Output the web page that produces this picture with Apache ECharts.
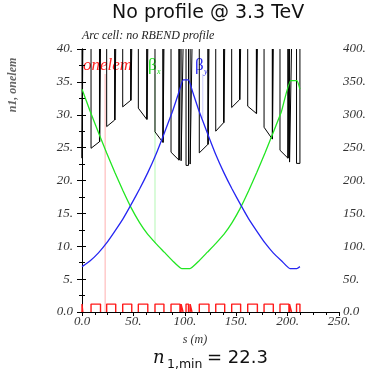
<!DOCTYPE html>
<html>
<head>
<meta charset="utf-8">
<script src="https://cdn.jsdelivr.net/npm/echarts@6/dist/echarts.min.js"></script>
<style>
html,body{margin:0;padding:0;background:#fff;}
#chart{width:373px;height:375px;}
</style>
</head>
<body>
<div id="chart"></div>
<script>
// beta functions (m), right axis
var betxS = [0, 8, 16, 24, 32, 40, 48, 56, 64, 72, 80, 88, 97, 105, 114, 122, 130, 138, 146, 154, 162, 170, 178, 186, 194, 203, 209, 212];
var betxV = [339, 305, 273, 242, 212, 184, 158, 136, 118, 104, 91, 78, 66, 66, 78, 91, 104, 118, 136, 158, 184, 212, 242, 273, 305, 352, 352, 339];
var betyS = [0, 8, 16, 24, 32, 40, 48, 56, 64, 72, 80, 88, 94, 98.5, 103.5, 108, 114, 122, 130, 138, 146, 154, 162, 170, 178, 186, 194, 202.4, 208.9, 212];
var betyV = [69, 78, 90, 105, 123, 142, 164, 187, 212, 240, 272, 305, 333, 353, 353, 333, 305, 272, 240, 212, 187, 164, 142, 123, 105, 90, 78, 66, 66, 69];

// elements: start / end s (m), n1 at entry / exit, onelem height, corrector after element (1/0)
var elS1  = [0,   8.8,  24.0, 39.6, 54.8, 71.0, 86.6, 96.4, 101.2, 105.2, 114.1, 130.1, 145.6, 161.2, 177.1, 192.6, 201.9, 208.7];
var elS2  = [0.8, 17.0, 31.8, 47.4, 63.0, 78.7, 94.3, 98.3, 103.6, 107.0, 122.5, 137.8, 153.3, 169.6, 185.1, 200.3, 203.8, 212.0];
var n1In  = [23.4, 24.9, 28.2, 31.2, 31.0, 27.4, 24.3, 23.0, 22.3, 22.5, 24.2, 27.5, 31.1, 31.3, 28.1, 24.6, 22.8, 22.6];
var n1Out = [23.4, 25.9, 29.2, 32.2, 29.3, 25.8, 23.1, 23.0, 22.3, 22.5, 25.5, 28.8, 32.3, 30.2, 26.3, 23.4, 22.8, 22.6];
var onelemV = [1.2, 1.2, 1.2, 1.2, 1.2, 1.2, 1.2, 1.2, 1.2, 1.2, 1.2, 1.2, 1.2, 1.2, 1.2, 1.2, 1.2, 1.2];
var corr    = [0, 1, 1, 1, 1, 1, 1, 0, 0, 0, 1, 1, 1, 1, 1, 1, 0, 0];
var corrLen = 1.0;

// label leader lines
var leadS = [22.5, 71, 117.5];
var leadTop = [36.2, 36.2, 36.2];
var leadBot = [0, 10.5, 29.5];

var n1Top = 40;

var n1Data = [];
var oneData = [];
for (var i = 0; i < elS1.length; i++) {
    n1Data.push([elS1[i], n1Top], [elS1[i], n1In[i]], [elS2[i], n1Out[i]], [elS2[i], n1Top], [elS2[i], '-']);
    var e2 = elS2[i];
    if (corr[i]) {
        e2 = elS2[i] + corrLen;
        n1Data.push([elS2[i] + 0.2, n1Top], [elS2[i] + 0.2, n1Out[i]], [e2, n1Out[i]], [e2, n1Top], [e2, '-']);
    }
    oneData.push([elS1[i], 0], [elS1[i], onelemV[i]], [e2, onelemV[i]], [e2, 0], [e2, '-']);
}
function zip(a, b) {
    var r = [];
    for (var k = 0; k < a.length; k++) r.push([a[k], b[k]]);
    return r;
}

var serif = 'Liberation Serif';
var labFmt = function (v) { return v === 0 ? '0.0' : v + '.'; };
var labStyle = { fontFamily: serif, fontStyle: 'italic', fontSize: 13, color: '#333' };

var leadColors = ['rgba(255,80,80,0.45)', 'rgba(40,230,40,0.35)', 'rgba(60,60,255,0.25)'];
var leadSeries = [];
for (var j = 0; j < leadS.length; j++) {
    leadSeries.push({
        type: 'line', yAxisIndex: 0, symbol: 'none', silent: true,
        lineStyle: { color: leadColors[j], width: 1 },
        data: [[leadS[j], leadTop[j]], [leadS[j], leadBot[j]]]
    });
}

var myChart = echarts.init(document.getElementById('chart'), null, { renderer: 'canvas' });
var option = {
    animation: false,
    backgroundColor: '#fff',
    grid: { left: 82, right: 34, top: 49, bottom: 63 },
    xAxis: [
        {
            type: 'value', min: 0, max: 250, interval: 50, position: 'bottom',
            axisLine: { lineStyle: { color: '#000', width: 1 } },
            axisTick: { inside: false, length: 4, lineStyle: { color: '#000' } },
            minorTick: { show: true, splitNumber: 4, length: 3, lineStyle: { color: '#000' } },
            splitLine: { show: false },
            axisLabel: Object.assign({ formatter: labFmt, margin: 3 }, labStyle)
        },
        {
            type: 'value', min: 0, max: 250, interval: 50, position: 'top',
            axisLine: { lineStyle: { color: '#000', width: 1 } },
            axisTick: { inside: true, length: 4, lineStyle: { color: '#000' } },
            minorTick: { show: true, splitNumber: 4, length: 3, lineStyle: { color: '#000' } },
            splitLine: { show: false },
            axisLabel: { show: false }
        }
    ],
    yAxis: [
        {
            type: 'value', min: 0, max: 40, interval: 5, position: 'left',
            axisLine: { show: true, lineStyle: { color: '#000', width: 1 } },
            axisTick: { show: true, length: 5, lineStyle: { color: '#000' } },
            minorTick: { show: true, splitNumber: 2, length: 3, lineStyle: { color: '#000' } },
            splitLine: { show: false },
            axisLabel: Object.assign({ formatter: labFmt, margin: 9 }, labStyle)
        },
        {
            type: 'value', min: 0, max: 400, interval: 50, position: 'right',
            axisLine: { show: true, lineStyle: { color: '#000', width: 1 } },
            axisTick: { show: true, length: 4, lineStyle: { color: '#000' } },
            minorTick: { show: true, splitNumber: 2, length: 3, lineStyle: { color: '#000' } },
            splitLine: { show: false },
            axisLabel: Object.assign({ formatter: labFmt, margin: 4 }, labStyle)
        }
    ],
    series: leadSeries.concat([
        {
            name: 'n1', type: 'line', yAxisIndex: 0, symbol: 'none', clip: true,
            lineStyle: { color: '#000', width: 1 },
            data: n1Data
        },
        {
            name: 'onelem', type: 'line', yAxisIndex: 0, symbol: 'none',
            lineStyle: { color: '#ff1a1a', width: 1.4 },
            data: oneData
        },
        {
            name: 'betx', type: 'line', yAxisIndex: 1, symbol: 'none', smooth: 0.15,
            lineStyle: { color: '#22e622', width: 1.3 },
            data: zip(betxS, betxV)
        },
        {
            name: 'bety', type: 'line', yAxisIndex: 1, symbol: 'none', smooth: 0.15,
            lineStyle: { color: '#2626f2', width: 1.3 },
            data: zip(betyS, betyV)
        }
    ]),
    graphic: [
        { type: 'text', left: 112, top: 4, style: { text: 'No profile @ 3.3 TeV', font: '19px "DejaVu Sans"', fill: '#111' } },
        { type: 'text', x: 82, y: 36, style: { text: 'Arc cell: no RBEND profile', font: 'italic 12px "Liberation Serif"', fill: '#222', verticalAlign: 'middle' } },
        { type: 'text', x: 13, y: 85, rotation: Math.PI / 2, style: { text: 'n1, onelem', font: 'italic bold 12px "Liberation Serif"', fill: '#666', align: 'center', verticalAlign: 'middle' } },
        { type: 'text', x: 83, y: 66, style: { text: 'onelem', font: 'italic 17px "Liberation Serif"', fill: '#ff2020', verticalAlign: 'middle' } },
        { type: 'text', x: 148, y: 66, style: { text: 'β', font: '17px "Liberation Serif"', fill: '#22e622', verticalAlign: 'middle' } },
        { type: 'text', x: 157, y: 72, style: { text: 'x', font: 'italic 8px "Liberation Serif"', fill: '#22e622', verticalAlign: 'middle' } },
        { type: 'text', x: 195, y: 66, style: { text: 'β', font: '17px "Liberation Serif"', fill: '#2626f2', verticalAlign: 'middle' } },
        { type: 'text', x: 204, y: 72, style: { text: 'y', font: 'italic 8px "Liberation Serif"', fill: '#2626f2', verticalAlign: 'middle' } },
        { type: 'text', x: 195, y: 340, style: { text: 's (m)', font: 'italic 12px "Liberation Serif"', fill: '#333', align: 'center', verticalAlign: 'middle' } },
        { type: 'text', x: 153, y: 358.5, style: { text: 'n', font: 'italic 18px "DejaVu Serif"', fill: '#111', verticalAlign: 'middle' } },
        { type: 'text', x: 167, y: 364.5, style: { text: '1,min', font: '12.5px "DejaVu Sans"', fill: '#111', verticalAlign: 'middle' } },
        { type: 'text', x: 207, y: 358.5, style: { text: '= 22.3', font: '18px "DejaVu Sans"', fill: '#111', verticalAlign: 'middle' } }
    ]
};
myChart.setOption(option);
</script>
</body>
</html>
